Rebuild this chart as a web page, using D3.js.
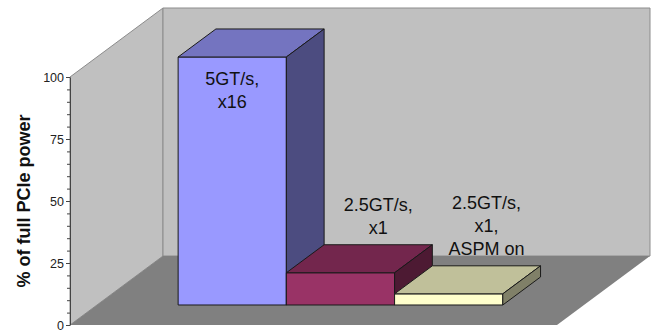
<!DOCTYPE html>
<html>
<head>
<meta charset="utf-8">
<script src="https://cdn.jsdelivr.net/npm/d3@7"></script>
<style>
  body { margin: 0; background: #fff; }
  svg { display: block; font-family: "Liberation Sans", Arial, sans-serif; }
</style>
</head>
<body>
<svg id="chart"></svg>
<script>
// data
const seriesNames = ["5GT/s, x16", "2.5GT/s, x1", "2.5GT/s, x1, ASPM on"];
const values = [100, 13, 4.5];
const labelLines = [["5GT/s,", "x16"], ["2.5GT/s,", "x1"], ["2.5GT/s,", "x1,", "ASPM on"]];
const tickValues = [0, 25, 50, 75, 100];
const yTitle = "% of full PCIe power";

const width = 654;
const height = 331;
const margin = { top: 77, right: 97, bottom: 6, left: 70 };
// depth offset of the back wall
const DX = 93;
const DY = 69;
// depth range of the bars (fraction of DX/DY)
const d0 = 0.29;
const d1 = 0.696;

const faceColors = [
  { front: "#9999ff", top: "#7474c0", side: "#4c4c80" },
  { front: "#993366", top: "#73264d", side: "#4d1a33" },
  { front: "#ffffcc", top: "#c0c09a", side: "#808068" },
];

const svg = d3.select("#chart").attr("width", width).attr("height", height);

const y = d3
  .scaleLinear()
  .domain([0, 100])
  .range([height - margin.bottom, margin.top]);

const x = d3
  .scaleBand()
  .domain(seriesNames)
  .range([margin.left, width - margin.right])
  .paddingInner(0)
  .paddingOuter(0.75);

// project a front-plane point back by depth fraction d
const P = (px, v, d) => [px + d * DX, y(v) - d * DY];
const poly = (pts) => pts.map((p) => p.join(",")).join(" ");

const x0 = margin.left;
const x1 = width - margin.right;

// left wall
svg
  .append("polygon")
  .attr("points", poly([P(x0, 0, 0), P(x0, 100, 0), P(x0, 100, 1), P(x0, 0, 1)]))
  .attr("fill", "#c0c0c0")
  .attr("stroke", "#8c8c8c")
  .attr("stroke-width", 1);

// back wall
svg
  .append("polygon")
  .attr("points", poly([P(x0, 0, 1), P(x0, 100, 1), P(x1, 100, 1), P(x1, 0, 1)]))
  .attr("fill", "#c0c0c0")
  .attr("stroke", "#8c8c8c")
  .attr("stroke-width", 1);

// floor
svg
  .append("polygon")
  .attr("points", poly([P(x0, 0, 0), P(x1, 0, 0), P(x1, 0, 1), P(x0, 0, 1)]))
  .attr("fill", "#808080");

// bars, left to right so right faces get covered by the next bar
const bars = svg
  .selectAll("g.bar")
  .data(seriesNames.map((name, i) => ({ name, value: values[i], lines: labelLines[i], c: faceColors[i] })))
  .join("g")
  .attr("class", "bar");

bars.each(function (d) {
  const g = d3.select(this);
  const xl = x(d.name);
  const xr = xl + x.bandwidth();
  const stroke = { stroke: "#1a1a1a", "stroke-width": 1, "stroke-linejoin": "round" };
  const addPoly = (pts, fill) => {
    const p = g.append("polygon").attr("points", poly(pts)).attr("fill", fill);
    Object.entries(stroke).forEach(([k, v]) => p.attr(k, v));
  };
  // front
  addPoly([P(xl, 0, d0), P(xl, d.value, d0), P(xr, d.value, d0), P(xr, 0, d0)], d.c.front);
  // top
  addPoly([P(xl, d.value, d0), P(xl, d.value, d1), P(xr, d.value, d1), P(xr, d.value, d0)], d.c.top);
  // right side
  addPoly([P(xr, 0, d0), P(xr, d.value, d0), P(xr, d.value, d1), P(xr, 0, d1)], d.c.side);
});

// data labels
const lineH = 23;
bars.each(function (d) {
  const g = d3.select(this);
  const xl = x(d.name);
  const cx = xl + x.bandwidth() / 2;
  const [bx, by] = P(cx, d.value, d1);
  const blockH = d.lines.length * lineH;
  let tx, firstBase;
  if (by - blockH < y(100) - DY) {
    // no room above: put it inside the front face
    const [fx, fy] = P(cx, d.value, d0);
    tx = fx;
    firstBase = fy + 28;
  } else {
    tx = bx;
    firstBase = by - 11 - (d.lines.length - 1) * lineH;
  }
  g.append("text")
    .attr("text-anchor", "middle")
    .attr("font-size", "18px")
    .attr("fill", "#111")
    .selectAll("tspan")
    .data(d.lines)
    .join("tspan")
    .attr("x", tx)
    .attr("y", (t, k) => firstBase + k * lineH)
    .text((t) => t);
});

// y axis, minor ticks first
svg
  .append("g")
  .attr("class", "yMinor")
  .attr("transform", `translate(${margin.left},0)`)
  .call(d3.axisLeft(y).tickValues(d3.range(0, 101, 5)).tickSize(3).tickSizeOuter(0).tickFormat(""))
  .call((g) => g.select(".domain").remove())
  .call((g) => g.selectAll("line").attr("stroke", "#444"));

svg
  .append("g")
  .attr("class", "yAxis")
  .attr("transform", `translate(${margin.left},0)`)
  .call(d3.axisLeft(y).tickValues(tickValues).tickSize(4).tickSizeOuter(0).tickPadding(2))
  .call((g) => g.select(".domain").attr("stroke", "#444"))
  .call((g) => g.selectAll("line").attr("stroke", "#444"))
  .call((g) =>
    g
      .selectAll("text")
      .attr("font-family", "'Liberation Sans', Arial, sans-serif")
      .attr("font-size", "12.5px")
      .attr("fill", "#222")
  );

// y axis title
svg
  .append("text")
  .attr("class", "yAxisLabel")
  .attr("transform", `translate(30, ${(y(0) + y(100)) / 2 - 0}) rotate(-90)`)
  .attr("text-anchor", "middle")
  .attr("font-size", "18px")
  .attr("font-weight", "bold")
  .attr("fill", "#111")
  .text(yTitle);
</script>
</body>
</html>
